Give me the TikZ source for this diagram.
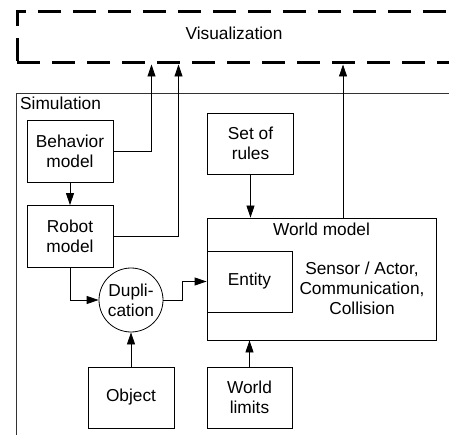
\documentclass[tikz,border=0pt]{standalone}
\usepackage{fontspec}
\setmainfont{Liberation Sans}
\usetikzlibrary{arrows.meta}
\usetikzlibrary{calc}

\begin{document}
\begin{tikzpicture}[
        x=1pt, y=-1pt,
        every node/.style={font=\fontsize{17.3}{20}\selectfont},
        block/.style={rectangle,draw,line width=0.8pt,minimum width=86pt,minimum height=62pt,inner sep=0pt,align=center},
        arr/.style={line width=0.8pt,-{Triangle[length=12pt,width=8pt]}},
        ]
        \useasboundingbox (0,0) rectangle (449,435);
        \clip (0,0) rectangle (449,435);

        \node[draw,line width=3pt,dash pattern=on 23pt off 12pt,minimum width=434pt,minimum height=51pt,text depth=9pt](viz) at (234,37.5){Visualization};

        \node[draw,line width=0.8pt,black!80,minimum width=460pt,minimum height=360pt,anchor=north west](sim) at (16,93){};
        \node[anchor=north west,inner sep=4pt](simlabel) at (sim.north west){Simulation};

        \node[block](behav) at (70,151){Behavior\\model};
        \node[block](robot) at (70,236.5){Robot\\model};
        \node[block,minimum height=61pt](rules) at (250.5,143.5){Set of\\rules};

        \node[block,minimum width=229pt,minimum height=122pt](world) at (321.5,279){};
        \node[anchor=north,yshift=-2pt](worldlabel) at (world.north){World model};
        \node[block,minimum width=85pt,minimum height=61pt](entity) at (249.5,281.5){Entity};
        \node[align=center](sensor) at (362,288){Sensor / Actor,\\Communication,\\Collision};

        \node[circle,draw,line width=0.8pt,minimum size=64pt,inner sep=0pt,align=center](dup) at (131,300){Dupli-\\cation};
        \node[block,minimum height=61pt](object) at (131,397.5){Object};
        \node[block,minimum width=85pt,minimum height=61pt](limits) at (249.5,397.5){World\\limits};

        \draw[arr] (behav) -- (robot);
        \draw[arr] (behav.east) -| ([xshift=136pt]viz.south west);
        \draw[arr] (robot.east) -| ([xshift=163pt]viz.south west);
        \draw[arr] ([xshift=21.5pt]world.north) -- ([xshift=21.5pt]world.north |- viz.south);
        \draw[arr] (rules.south) -- (rules.south |- world.north);
        \draw[arr] (robot.south) |- (dup.west);
        \draw[arr] (dup.east) -- ++(19,0) |- (entity.west);
        \draw[arr] (object) -- (dup);
        \draw[arr] (limits) -- (limits |- world.south);

        \end{tikzpicture}
\end{document}
